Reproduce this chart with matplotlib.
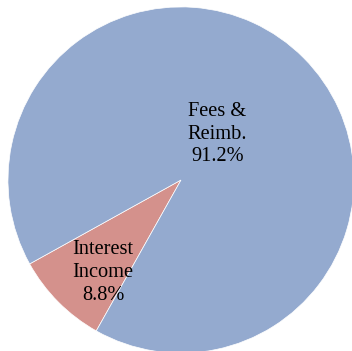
import matplotlib.pyplot as plt

labels = ["Interest\nIncome", "Fees &\nReimb."]
shares = [8.8, 91.2]
colors = ["#D4918C", "#94AACF"]
# label anchor points inside each wedge (data units, pie radius = 1)
label_xy = [(-0.45, -0.535), (0.21, 0.265)]

plt.rcParams["font.family"] = ["Liberation Serif", "DejaVu Serif"]

fig = plt.figure(figsize=(3.52, 3.51), dpi=100)
ax = fig.add_axes([0, 0, 1, 1])

wedges, _ = ax.pie(shares, colors=colors, startangle=209, counterclock=True,
                   radius=1.0, wedgeprops=dict(edgecolor="white", linewidth=0.5))

for lab, val, (x, y) in zip(labels, shares, label_xy):
    ax.text(x, y, f"{lab}\n{val:.1f}%", ha="center", va="center",
            fontsize=14.7, color="black", linespacing=1.26)

ax.set_xlim(-1.046, 0.988)
ax.set_ylim(-0.988, 1.040)
ax.set_aspect("auto")
ax.axis("off")

fig.savefig("out.png", dpi=100)
